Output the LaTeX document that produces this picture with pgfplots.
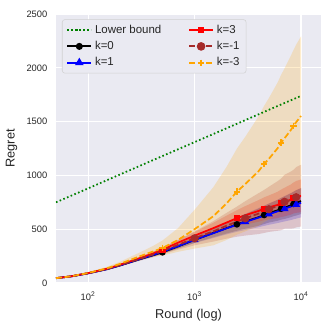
\documentclass[border=0pt]{standalone}
\usepackage{fontspec}
\setmainfont{Liberation Sans}
\usepackage{pgfplots}
\usepackage{pgfplotstable}
\pgfplotsset{compat=1.18}
\usepgfplotslibrary{fillbetween}

\definecolor{bg}{HTML}{EAEAF2}
\definecolor{txt}{HTML}{262626}
\definecolor{lbgreen}{HTML}{008000}
\definecolor{kbrown}{HTML}{A52A2A}
\definecolor{korange}{HTML}{FFA500}

% x mean lo hi
\pgfplotstableread{
x m lo hi
50 45 44 46
70 62 61 63
100 90 88 92
150 128 125 131
200 163 158 168
300 218 210 226
400 255 245 265
500 285 272 298
700 340 321 359
1000 400 373 427
1500 465 425 505
2000 510 460 560
2500 545 486 604
3000 572 505 639
4000 612 532 692
4500 632 548 716
5000 650 562 738
6000 675 578 772
6500 690 589 791
7000 700 595 805
8000 722 611 833
8500 735 621 849
9000 745 627 863
10000 762 641 883
}\kzero

\pgfplotstableread{
x m lo hi
50 45 44 46
70 62 61 63
100 90 88 92
150 128 124 132
200 164 159 169
300 220 212 228
400 258 246 270
500 290 275 305
700 342 321 363
1000 402 371 433
1500 463 418 508
2000 508 452 564
2500 542 476 608
3000 568 493 643
4000 608 519 697
4500 625 531 719
5000 640 541 739
6000 665 557 773
6500 678 565 791
7000 690 572 808
8000 710 585 835
8500 720 592 848
9000 730 598 862
10000 745 610 880
}\kone

\pgfplotstableread{
x m lo hi
50 45 44 46
70 63 61 65
100 92 89 95
150 132 128 136
200 170 164 176
300 228 218 238
400 272 259 285
500 310 293 327
700 375 351 399
1000 440 406 474
1500 510 460 560
2000 562 498 626
2500 603 529 677
3000 630 545 715
4000 670 569 771
4500 690 584 796
5000 703 592 814
6000 725 603 847
6500 741 614 868
7000 752 619 885
8000 775 635 915
8500 790 646 934
9000 800 652 948
10000 810 658 962
}\kthree

\pgfplotstableread{
x m lo hi
50 45 43 47
70 62 59 65
100 91 86 96
150 130 122 138
200 166 155 177
300 222 204 240
400 262 237 287
500 298 266 330
700 355 310 400
1000 415 350 480
1500 480 385 575
2000 532 412 652
2500 570 430 710
3000 601 441 761
4000 645 455 835
4500 665 465 865
5000 685 475 895
6000 715 485 945
6500 730 490 970
7000 755 505 1005
8000 770 505 1035
8500 780 508 1052
9000 797 517 1077
10000 812 525 1099
}\kmone

\pgfplotstableread{
x m lo hi
50 45 42 48
70 63 58 68
100 93 85 101
150 136 122 150
200 178 158 198
300 245 210 280
400 290 240 340
500 325 255 395
700 400 290 510
1000 500 320 680
1500 620 350 890
2000 740 400 1080
2500 849 449 1249
3000 920 480 1360
4000 1040 530 1550
4500 1106 566 1646
5000 1155 590 1720
6000 1250 640 1860
6500 1304 674 1934
7000 1345 695 1995
8000 1420 730 2110
8500 1460 755 2165
9000 1495 775 2215
10000 1552 812 2292
}\kmthree

\pgfplotstableread{
x y
50 750
100 879
200 1009
500 1180
1000 1309
2000 1438
5000 1610
10000 1739
}\lowerbound

\begin{document}
\begin{tikzpicture}
\begin{axis}[
  width=198.75pt, height=201.75pt, scale only axis,
  xmode=log, xmin=50, xmax=15400, ymin=0, ymax=2500,
  axis background/.style={fill=bg},
  axis line style={draw=none},
  grid=major, major grid style={white, line width=0.8pt},
  tick style={draw=none}, xminorticks=false,
  xtick={100,1000,10000},
  xticklabels={10\textsuperscript{2},10\textsuperscript{3},10\textsuperscript{4}},
  ytick={0,500,1000,1500,2000,2500},
  /pgf/number format/assume math mode=true,
  /pgf/number format/1000 sep={},
  tick label style={font=\fontsize{7}{8}\selectfont, text=txt},
  every x tick label/.append style={yshift=-3pt},
  every y tick label/.append style={xshift=-3pt},
  label style={font=\fontsize{9.6}{11}\selectfont, text=txt},
  xlabel={Round (log)}, ylabel={Regret},
  legend columns=2, legend cell align=left,
  legend style={at={(0,1)}, anchor=north west, xshift=4.5pt, yshift=-4pt,
    fill=bg, draw=black!18, rounded corners=2pt,
    font=\fontsize{8.6}{10}\selectfont, text=txt, row sep=0.5pt,
    /tikz/every even column/.append style={column sep=18pt}},
  legend image code/.code={%
    \draw[line width=1.6pt, mark repeat=2, mark phase=2]
      plot coordinates {(0pt,0pt) (9pt,0pt) (18pt,0pt)};},
  every axis plot/.append style={line width=1.3pt},
]
% legend entries, in the reference's column-wise order
\addlegendimage{lbgreen, dash pattern=on 1.2pt off 1.8pt}
\addlegendentry{Lower bound}
\addlegendimage{red, mark=square*, mark size=1.7pt}
\addlegendentry{k=3}
\addlegendimage{black, mark=*, mark size=1.8pt}
\addlegendentry{k=0}
\addlegendimage{kbrown, dash pattern=on 4.5pt off 2pt, mark=*, mark size=2.4pt, mark options={solid}}
\addlegendentry{k=-1}
\addlegendimage{blue, mark=triangle*, mark size=2.2pt}
\addlegendentry{k=1}
\addlegendimage{korange, dash pattern=on 4.5pt off 2pt, mark=+, mark size=2.4pt, mark options={solid}}
\addlegendentry{k=-3}

% bands
\addplot[name path=a0, draw=none, forget plot] table[x=x, y=lo] {\kzero};
\addplot[name path=b0, draw=none, forget plot] table[x=x, y=hi] {\kzero};
\addplot[black, fill opacity=0.2, draw=none, forget plot] fill between[of=a0 and b0];
\addplot[name path=a1, draw=none, forget plot] table[x=x, y=lo] {\kone};
\addplot[name path=b1, draw=none, forget plot] table[x=x, y=hi] {\kone};
\addplot[blue, fill opacity=0.2, draw=none, forget plot] fill between[of=a1 and b1];
\addplot[name path=a3, draw=none, forget plot] table[x=x, y=lo] {\kthree};
\addplot[name path=b3, draw=none, forget plot] table[x=x, y=hi] {\kthree};
\addplot[red, fill opacity=0.2, draw=none, forget plot] fill between[of=a3 and b3];
\addplot[name path=am1, draw=none, forget plot] table[x=x, y=lo] {\kmone};
\addplot[name path=bm1, draw=none, forget plot] table[x=x, y=hi] {\kmone};
\addplot[kbrown, fill opacity=0.2, draw=none, forget plot] fill between[of=am1 and bm1];
\addplot[name path=am3, draw=none, forget plot] table[x=x, y=lo] {\kmthree};
\addplot[name path=bm3, draw=none, forget plot] table[x=x, y=hi] {\kmthree};
\addplot[korange, fill opacity=0.2, draw=none, forget plot] fill between[of=am3 and bm3];

% lines
\addplot[lbgreen, dash pattern=on 1.2pt off 1.8pt, forget plot] table[x=x, y=y] {\lowerbound};
\addplot[black, mark=*, mark size=1.8pt, mark indices={8,13,16,19,22}, forget plot] table[x=x, y=m] {\kzero};
\addplot[blue, mark=triangle*, mark size=2.2pt, mark indices={10,14,17,20,23}, forget plot] table[x=x, y=m] {\kone};
\addplot[red, mark=square*, mark size=1.7pt, mark indices={8,13,16,19,22}, forget plot] table[x=x, y=m] {\kthree};
\addplot[kbrown, dash pattern=on 4.5pt off 2pt, mark=*, mark size=2.4pt, mark options={solid}, mark indices={10,14,17,20,23}, forget plot] table[x=x, y=m] {\kmone};
\addplot[korange, dash pattern=on 4.5pt off 2pt, mark=+, mark size=2.4pt, mark options={solid}, mark indices={8,13,16,19,22}, forget plot] table[x=x, y=m] {\kmthree};
\end{axis}
\path ([shift={(-42pt,-36.75pt)}]current axis.south west) rectangle ([shift={(8.25pt,10.5pt)}]current axis.north east);
\end{tikzpicture}
\end{document}
